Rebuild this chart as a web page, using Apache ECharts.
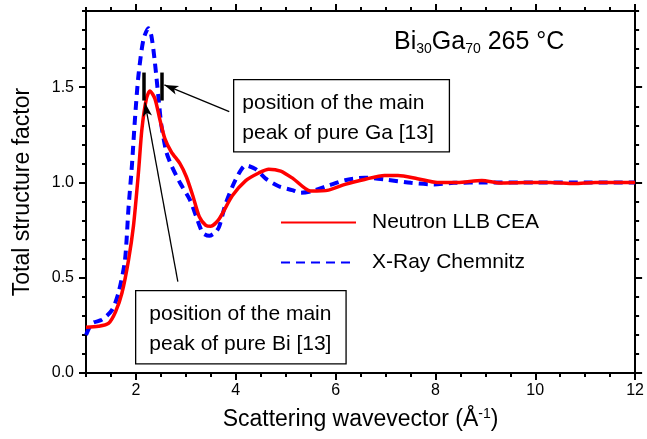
<!DOCTYPE html>
<html>
<head>
<meta charset="utf-8">
<script src="https://cdn.jsdelivr.net/npm/echarts@6/dist/echarts.min.js"></script>
<style>
  html, body { margin: 0; padding: 0; background: #fff; }
  #chart { width: 647px; height: 439px; }
</style>
</head>
<body>
<div id="chart"></div>
<script>
// neutron data (LLB CEA)
var qNeutron = [1.0, 1.25, 1.45, 1.59, 1.72, 1.85, 1.95, 2.05, 2.12, 2.21, 2.28, 2.38, 2.48, 2.58, 2.71, 2.88, 3.01, 3.14, 3.27, 3.40, 3.50, 3.67, 3.93, 4.20, 4.46, 4.66, 4.90, 5.15, 5.50, 5.86, 6.19, 6.58, 6.98, 7.25, 7.64, 8.04, 8.44, 8.93, 9.30, 9.80, 10.30, 10.78, 11.20, 12.0];
var sNeutron = [0.24, 0.245, 0.26, 0.32, 0.42, 0.59, 0.77, 1.05, 1.28, 1.44, 1.48, 1.44, 1.33, 1.23, 1.16, 1.10, 1.03, 0.93, 0.82, 0.775, 0.77, 0.81, 0.93, 1.01, 1.05, 1.07, 1.06, 1.02, 0.955, 0.96, 0.99, 1.016, 1.037, 1.037, 1.02, 1.0, 1.0, 1.01, 0.997, 1.0, 1.0, 0.994, 1.0, 1.0];

// x-ray data (Chemnitz)
var qXray = [1.0, 1.12, 1.32, 1.52, 1.65, 1.78, 1.85, 1.92, 1.98, 2.05, 2.15, 2.25, 2.31, 2.38, 2.45, 2.51, 2.61, 2.71, 2.88, 3.08, 3.21, 3.34, 3.47, 3.60, 3.67, 3.80, 4.0, 4.20, 4.40, 4.60, 4.86, 5.13, 5.30, 5.52, 5.86, 6.19, 6.58, 6.98, 7.51, 7.97, 8.37, 9.0, 10.0, 11.0, 12.0];
var sXray = [0.2, 0.26, 0.28, 0.33, 0.42, 0.59, 0.86, 1.09, 1.33, 1.56, 1.75, 1.81, 1.77, 1.63, 1.45, 1.30, 1.16, 1.09, 1.0, 0.91, 0.82, 0.735, 0.72, 0.74, 0.77, 0.89, 1.016, 1.09, 1.07, 1.02, 0.98, 0.96, 0.946, 0.954, 0.984, 1.012, 1.025, 1.016, 0.998, 0.99, 0.998, 1.0, 1.0, 1.0, 1.0];

// tick labels
var xTicks = [2, 4, 6, 8, 10, 12];
var yTicks = [0, 0.5, 1.0, 1.5];

// main peak positions of pure Bi / pure Ga (short bars) and their y span
var peakBi = 2.16;
var peakGa = 2.51;
var peakSpan = [1.43, 1.577];

var FONT = "'Liberation Sans', Arial, sans-serif";

function pairs(xs, ys) {
  return xs.map(function (x, i) { return [x, ys[i]]; });
}

var chart = echarts.init(document.getElementById("chart"));

// helper for frame axes (major ticks with labels, minor ticks without)
function xAx(pos, major, labels) {
  var a = {
    type: "value", position: pos, min: 1, max: 12, interval: 0.5,
    splitLine: { show: false },
    axisLine: { show: major, onZero: false, lineStyle: { color: "#000", width: 2 } },
    axisLabel: { show: false }
  };
  if (major) {
    a.axisTick = { customValues: xTicks, length: 7, lineStyle: { color: "#000", width: 2 } };
    if (labels) {
      a.axisLabel = { show: true, customValues: xTicks, color: "#000", fontSize: 16, fontFamily: FONT, margin: 10 };
    }
  } else {
    a.axisTick = { length: 4, lineStyle: { color: "#000", width: 2 } };
  }
  return a;
}

function yAx(pos, major, labels) {
  var a = {
    type: "value", position: pos, min: 0, max: 1.9,
    splitLine: { show: false },
    axisLine: { show: major, onZero: false, lineStyle: { color: "#000", width: 2 } },
    axisLabel: { show: false }
  };
  if (major) {
    a.interval = 0.5;
    a.axisTick = { customValues: yTicks, length: 7, lineStyle: { color: "#000", width: 2 } };
    if (labels) {
      a.axisLabel = {
        show: true, customValues: yTicks, color: "#000", fontSize: 16, fontFamily: FONT, margin: 12,
        formatter: function (v) { return v.toFixed(1); }
      };
    }
  } else {
    a.interval = 0.1;
    a.axisTick = { length: 4, lineStyle: { color: "#000", width: 2 } };
  }
  return a;
}

var xMain = xAx("bottom", true, true);
xMain.name = "{a|Scattering wavevector (Å}{s|-1}{a|)}";
xMain.nameLocation = "middle";
xMain.nameGap = 34;
xMain.nameTextStyle = {
  rich: {
    a: { fontSize: 23, fontFamily: FONT, color: "#000" },
    s: { fontSize: 14, fontFamily: FONT, color: "#000", padding: [0, 0, 12, 0] }
  }
};

var yMain = yAx("left", true, true);
yMain.name = "Total structure factor";
yMain.nameLocation = "middle";
yMain.nameGap = 52;
yMain.nameTextStyle = { fontSize: 23, fontFamily: FONT, color: "#000" };

var option = {
  animation: false,
  backgroundColor: "#fff",
  grid: { left: 86, right: 9, top: 11, bottom: 66 },
  xAxis: [xMain, xAx("bottom", false), xAx("top", true, false), xAx("top", false)],
  yAxis: [yMain, yAx("left", false), yAx("right", true, false), yAx("right", false)],
  legend: {
    orient: "vertical",
    left: 275,
    top: 207,
    itemWidth: 75,
    itemHeight: 20,
    itemGap: 19,
    itemStyle: { opacity: 0 },
    textStyle: { fontSize: 21, fontFamily: FONT, color: "#000", padding: [0, 0, 0, 11] },
    data: ["Neutron LLB CEA", "X-Ray Chemnitz"]
  },
  series: [
    {
      name: "Neutron LLB CEA",
      type: "line",
      data: pairs(qNeutron, sNeutron),
      smooth: 0.25,
      symbol: "none",
      z: 3,
      lineStyle: { color: "#ff0000", width: 3.5 },
      itemStyle: { color: "#ff0000" },
      markLine: {
        silent: true,
        animation: false,
        label: { show: false },
        data: [
          [{ coord: [peakBi, peakSpan[0]], symbol: "none" }, { coord: [peakBi, peakSpan[1]], symbol: "none" }],
          [{ coord: [peakGa, peakSpan[0]], symbol: "none" }, { coord: [peakGa, peakSpan[1]], symbol: "none" }]
        ],
        lineStyle: { color: "#000", width: 3.5, type: "solid" }
      }
    },
    {
      name: "X-Ray Chemnitz",
      type: "line",
      data: pairs(qXray, sXray),
      smooth: 0.25,
      symbol: "none",
      z: 2,
      lineStyle: { color: "#0000ff", width: 4, type: [9, 6] },
      itemStyle: { color: "#0000ff" },
      markLine: {
        silent: true,
        animation: false,
        label: { show: false },
        lineStyle: { color: "#000", width: 1.3, type: "solid" },
        data: [
          // arrow from the Ga box to the Ga bar
          [{ coord: [3.87, 1.372], symbol: "none" }, { coord: [2.57, 1.512], symbol: "arrow", symbolSize: [7, 14] }],
          // arrow from the Bi box to the Bi bar
          [{ coord: [2.84, 0.479], symbol: "none" }, { coord: [2.18, 1.42], symbol: "arrow", symbolSize: [7, 14] }]
        ]
      }
    }
  ],
  graphic: [
    {
      type: "text", left: 394, top: 30, z: 10,
      style: {
        text: "{m|Bi}{s|30}{m|Ga}{s|70}{m| 265 °C}",
        rich: {
          m: { fontSize: 25, fontFamily: FONT, fill: "#000" },
          s: { fontSize: 14, fontFamily: FONT, fill: "#000", padding: [14, 0, 0, 0] }
        }
      }
    },
    {
      type: "text", left: 233, top: 79, z: 10,
      style: {
        text: "position of the main\npeak of pure Ga [13]",
        fontSize: 21, fontFamily: FONT, fill: "#000", lineHeight: 30,
        backgroundColor: "#fff", borderColor: "#000", borderWidth: 1.3,
        padding: [8, 15, 3, 8]
      }
    },
    {
      type: "text", left: 135, top: 290, z: 10,
      style: {
        text: "position of the main\npeak of pure Bi [13]",
        fontSize: 21, fontFamily: FONT, fill: "#000", lineHeight: 30,
        backgroundColor: "#fff", borderColor: "#000", borderWidth: 1.3,
        padding: [8, 14, 4, 13]
      }
    }
  ]
};

chart.setOption(option);
</script>
</body>
</html>
